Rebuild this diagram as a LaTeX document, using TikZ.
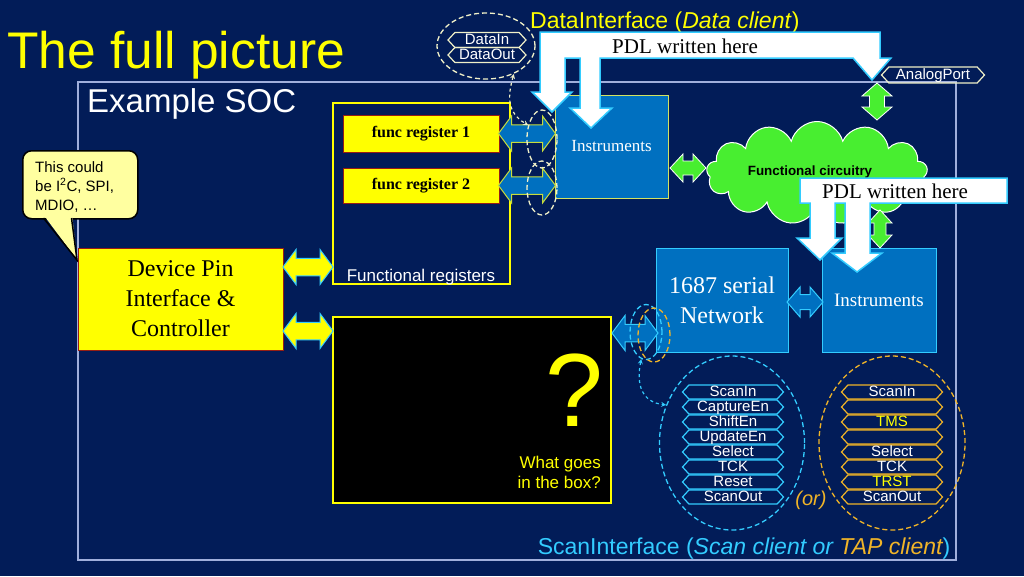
\documentclass[tikz,border=0pt]{standalone}
\usepackage{fontspec}
\setmainfont{Liberation Serif}
\setsansfont{Liberation Sans}
\usetikzlibrary{shapes.geometric,shapes.symbols,calc,positioning}

\definecolor{cbg}{RGB}{2,28,88}
\definecolor{cframe}{RGB}{160,175,220}
\definecolor{cyellow}{RGB}{255,255,0}
\definecolor{cblue}{RGB}{0,112,192}
\definecolor{ccyan}{RGB}{51,204,255}
\definecolor{cgreen}{RGB}{72,238,48}
\definecolor{corange}{RGB}{240,180,40}
\definecolor{cpale}{RGB}{240,240,200}
\definecolor{cpaley}{RGB}{255,255,160}
\definecolor{cdred}{RGB}{150,30,20}
\definecolor{cygreen}{RGB}{200,220,60}

\tikzset{
  sig/.style={signal, signal to=east and west, signal pointer angle=95, line width=1.2pt,
    inner sep=0pt, minimum width=101pt, minimum height=14pt, text=white,
    font=\sffamily\fontsize{15}{15}\selectfont, text height=10.5pt, text depth=2.5pt},
  scansig/.style={sig, draw=ccyan},
  tapsig/.style={sig, draw=corange},
  datasig/.style={sig, draw=cpale, minimum width=78pt, minimum height=15pt},
  blockbox/.style={fill=cblue, line width=1pt, inner sep=0pt, text=white},
  regbox/.style={fill=cyellow, draw=cdred, line width=1pt, minimum width=156pt, inner sep=0pt,
    font=\bfseries\fontsize{16}{16}\selectfont},
  ring/.style={ellipse, dash pattern=on 5pt off 3pt, line width=1.3pt, inner sep=0pt},
  yarr/.style={fill=cyellow, draw=ccyan, line width=1pt},
  barr/.style={fill=cblue, draw=cygreen, line width=1pt},
  carr/.style={fill=cblue, draw=ccyan, line width=1pt},
  garr/.style={fill=cgreen, draw=white, line width=0.8pt},
  pdl/.style={fill=white, draw=ccyan, line width=1.5pt}
}

% style, centre, angle, half length, half width
\newcommand{\dblarrow}[5]{%
  \filldraw[#1, shift={#2}, rotate=#3]
    (-#4,0) -- ({-#4+13},-#5) -- ({-#4+13},{-0.5*#5}) -- ({#4-13},{-0.5*#5})
    -- ({#4-13},-#5) -- (#4,0) -- ({#4-13},#5) -- ({#4-13},{0.5*#5})
    -- ({-#4+13},{0.5*#5}) -- ({-#4+13},#5) -- cycle;}

\begin{document}
\begin{tikzpicture}[x=1pt,y=-1pt]
  \fill[cbg] (0,0) rectangle (1024,576);
  \useasboundingbox (0,0) rectangle (1024,576);

  \draw[cframe, line width=1.2pt] (78,82) rectangle (956,560);

  \node[anchor=base west, inner sep=0, text=cyellow, font=\sffamily\fontsize{51.5}{51.5}\selectfont] (title) at (7,68) {The full picture};
  \node[anchor=base west, inner sep=0, text=white, font=\sffamily\fontsize{33}{33}\selectfont] (soc) at (87,112) {Example SOC};
  \node[anchor=base west, inner sep=0, text=cyellow, font=\sffamily\fontsize{23}{23}\selectfont] (dataif) at (530,28) {DataInterface (\textit{Data client})};

  % callout
  \node[draw=black, line width=1.5pt, fill=cpaley, rounded corners=9pt, minimum width=115pt,
    minimum height=68pt, anchor=north west] (callbox) at (22,150) {};
  \fill[cpaley] (43,214) -- (77,260) -- (72,214) -- cycle;
  \draw[black, line width=1.5pt] (43.5,218) -- (77,260) -- (71.5,218);
  \node[anchor=north west, inner sep=0, align=left, font=\sffamily\fontsize{15}{19}\selectfont] (callout) at (35,161)
    {This could\\be I\textsuperscript{2}C, SPI,\\MDIO, \dots};

  % device
  \node[fill=cyellow, draw=cdred, line width=1pt, minimum width=205pt, minimum height=102pt, align=center,
    font=\fontsize{24}{30}\selectfont] (dev) at (180.5,299) {Device Pin\\Interface \&\\Controller};

  % functional registers
  \node[draw=cyellow, line width=2pt, minimum width=177pt, minimum height=181pt] (freg) at (421.5,193.5) {};
  \node[anchor=base, inner sep=0, text=white, font=\sffamily\fontsize{17}{17}\selectfont] (fregl) at (421,281) {Functional registers};
  \node[regbox, minimum height=37pt] (reg1) at (421,133.5) {func register 1};
  \node[regbox, minimum height=35pt] (reg2) at (421,185.5) {func register 2};

  \node[blockbox, draw=cygreen!80!white, minimum width=113pt, minimum height=103pt,
    font=\fontsize{17}{17}\selectfont] (instA) at (611.5,146.5) {Instruments};

  % functional circuitry
  \node[cloud, cloud puffs=13, aspect=2.1, fill=cgreen, draw=white, line width=1pt, inner sep=0,
    minimum width=221pt, minimum height=103pt] (cloud) at (817,173) {};
  \node[anchor=base, inner sep=0, font=\sffamily\bfseries\fontsize{13.4}{13.4}\selectfont] (cloudl) at (810,175) {Functional circuitry};

  \node[blockbox, draw=ccyan, minimum width=132pt, minimum height=104pt, align=center,
    font=\fontsize{24}{30}\selectfont] (net) at (722,300) {1687 serial\\Network};
  \node[blockbox, draw=ccyan, minimum width=114pt, minimum height=104pt,
    font=\fontsize{19}{19}\selectfont] (instB) at (879,300) {Instruments};

  % box
  \node[fill=black, draw=cyellow, line width=1.5pt, minimum width=278pt, minimum height=186pt] (qbox) at (472,410) {};
  \node[inner sep=0, text=cyellow, font=\sffamily\fontsize{104}{104}\selectfont] (qmark) at (574,390) {?};
  \node[anchor=north east, inner sep=0, align=right, text=cyellow, font=\sffamily\fontsize{17}{20}\selectfont] (qtext) at (601,456)
    {What goes\\in the box?};

  % arrows
  \dblarrow{yarr}{(308,267)}{0}{25}{17.5}
  \dblarrow{yarr}{(308,331)}{0}{25}{17.5}
  \dblarrow{barr}{($(reg1.east)!.5!(instA.west |- reg1.east)$)}{0}{28.5}{17.5}
  \dblarrow{barr}{($(reg2.east)!.5!(instA.west |- reg2.east)$)}{0}{28.5}{17.5}
  \dblarrow{garr}{(877,101.5)}{90}{18.5}{15}
  \dblarrow{garr}{(688,168)}{0}{18}{14}
  \dblarrow{garr}{(880,229)}{90}{19}{12}
  \dblarrow{carr}{(635,333)}{0}{23}{17.5}
  \dblarrow{carr}{(805,302)}{0}{18}{15}

  % PDL callouts
  \filldraw[pdl] (540,32) -- (880,32) -- (880,58) -- (891,58) -- (872,80) -- (853,58)
    -- (600,58) -- (600,108) -- (612,108) -- (591,128) -- (570,108) -- (580,108) -- (580,58)
    -- (565,58) -- (565,92) -- (572,92) -- (552,112) -- (532,92) -- (540,92) -- cycle;
  \node[anchor=base west, inner sep=0, font=\fontsize{21}{21}\selectfont] (pdlA) at (612,53) {PDL written here};
  \filldraw[pdl] (800,178) -- (1007,178) -- (1007,203) -- (870,203) -- (870,253) -- (882,253)
    -- (857,272) -- (832,253) -- (845,253) -- (845,203) -- (835,203) -- (835,238) -- (842,238)
    -- (820,260) -- (797,238) -- (810,238) -- (810,203) -- (800,203) -- cycle;
  \node[anchor=base west, inner sep=0, font=\fontsize{21}{21}\selectfont] (pdlB) at (822,198) {PDL written here};

  % data interface
  \node[ring, draw=cpale, minimum width=98pt, minimum height=66pt] (dataell) at (486,46) {};
  \node[datasig] (datain) at (487,40) {DataIn};
  \node[datasig] (dataout) at (487,55) {DataOut};
  \node[sig, draw=cpale, minimum width=103pt, minimum height=16pt] (analog) at (933,75) {AnalogPort};

  \node[ring, draw=cpale, minimum width=30pt, minimum height=58pt] (regellA) at (542,139) {};
  \node[ring, draw=cpale, minimum width=30pt, minimum height=54pt] (regellB) at (542,188) {};
  \draw[cpale, dashed, line width=1.2pt, <->, >=stealth] (dataell.-45) .. controls (508,95) and (506,112) .. (regellA.135);

  % scan interface
  \node[ring, draw=ccyan, minimum width=32pt, minimum height=55pt] (smcyan) at (646,332) {};
  \node[ring, draw=corange, minimum width=32pt, minimum height=54pt] (smtap) at (654,335) {};
  \node[ring, draw=ccyan, minimum width=145pt, minimum height=174pt] (bigcyan) at (732,443) {};
  \node[ring, draw=corange, minimum width=146pt, minimum height=174pt] (bigtap) at (892,443) {};
  \draw[ccyan, dashed, line width=1.2pt, <->, >=stealth] (smcyan.-100) .. controls (636,385) and (642,402) .. (bigcyan.150);

  \node[scansig] (scanin) at (733,392) {ScanIn};
  \node[scansig] (capen) at (733,407) {CaptureEn};
  \node[scansig] (shiften) at (733,422) {ShiftEn};
  \node[scansig] (upden) at (733,437) {UpdateEn};
  \node[scansig] (selS) at (733,452) {Select};
  \node[scansig] (tckS) at (733,467) {TCK};
  \node[scansig] (rstS) at (733,482) {Reset};
  \node[scansig] (scanout) at (733,497) {ScanOut};

  \node[tapsig] (tapin) at (892,392) {ScanIn};
  \node[tapsig] (tapblankA) at (892,407) {};
  \node[tapsig, text=cyellow] (tms) at (892,422) {TMS};
  \node[tapsig] (tapblankB) at (892,437) {};
  \node[tapsig] (selT) at (892,452) {Select};
  \node[tapsig] (tckT) at (892,467) {TCK};
  \node[tapsig, text=cyellow] (trst) at (892,482) {TRST};
  \node[tapsig] (tapout) at (892,497) {ScanOut};

  \node[anchor=base, inner sep=0, text=corange, font=\sffamily\itshape\fontsize{20}{20}\selectfont] (orl) at (811,505) {(or)};
  \node[anchor=base, inner sep=0, text=ccyan, font=\sffamily\fontsize{23}{23}\selectfont] (scanif) at (744,554)
    {ScanInterface (\textit{Scan client or \textcolor{corange}{TAP client}})};
\end{tikzpicture}
\end{document}
